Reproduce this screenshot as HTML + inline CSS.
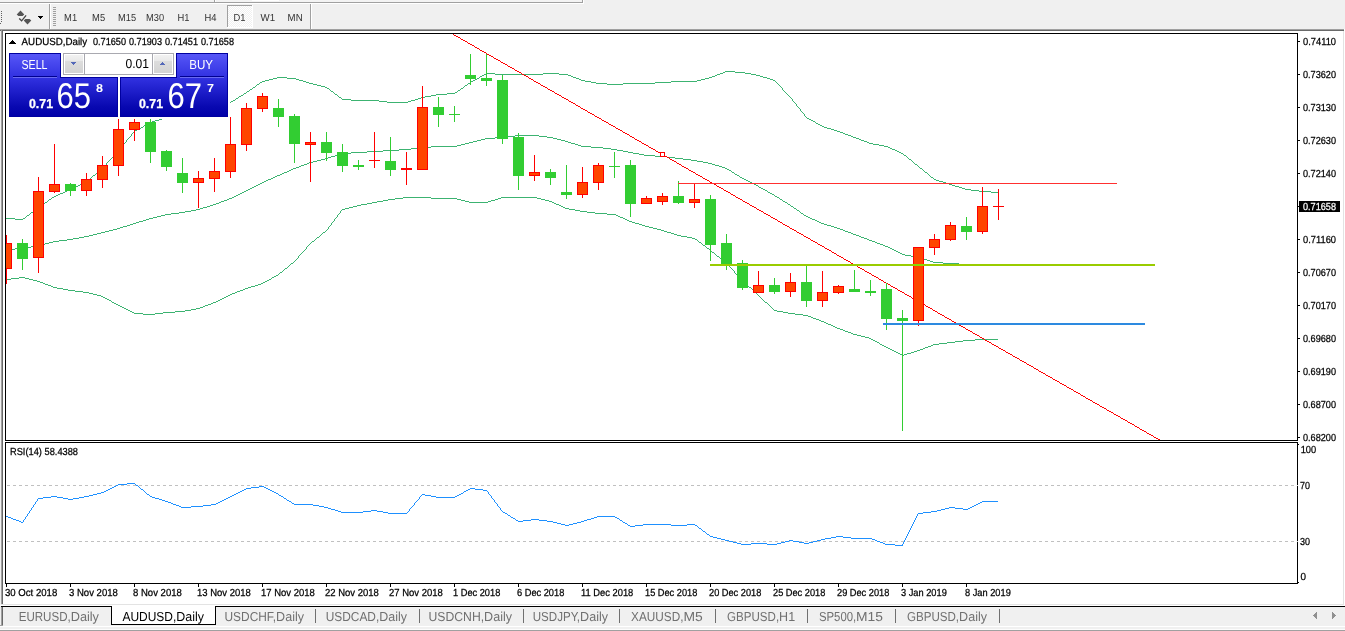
<!DOCTYPE html>
<html><head><meta charset="utf-8"><title>AUDUSD,Daily</title>
<style>
html,body{margin:0;padding:0;background:#f0f0f0;}
body{width:1345px;height:631px;overflow:hidden;position:relative;}
#frame{position:absolute;left:0;top:29px;width:1345px;height:577px;background:#fff;}
svg{position:absolute;left:0;top:0;}
</style></head><body>
<div id="frame"></div>
<svg width="1345" height="631" viewBox="0 0 1345 631">
<g shape-rendering="crispEdges">
<rect x="0" y="0" width="1345" height="29" fill="#f0f0f0"/>
<rect x="0" y="29" width="1345" height="1" fill="#a0a0a0"/>
<rect x="0" y="30" width="1345" height="1" fill="#696969"/>
<rect x="0" y="31" width="3" height="575" fill="#f0f0f0"/>
<rect x="1" y="29" width="1" height="575" fill="#a0a0a0"/>
<rect x="2" y="30" width="1" height="574" fill="#696969"/>
<rect x="1343" y="31" width="1" height="574" fill="#e3e3e3"/>
<rect x="1344" y="29" width="1" height="576" fill="#fff"/>
<rect x="1" y="604" width="1343" height="1" fill="#e3e3e3"/><rect x="0" y="605" width="1345" height="1" fill="#fff"/>
</g>
<defs><clipPath id="c1"><rect x="6" y="34" width="1291" height="406"/></clipPath><clipPath id="c2"><rect x="6" y="443" width="1291" height="140"/></clipPath>
<linearGradient id="gb" x1="0" y1="0" x2="0" y2="1"><stop offset="0" stop-color="#5858f8"/><stop offset="1" stop-color="#3030e0"/></linearGradient>
<linearGradient id="gp" x1="0" y1="0" x2="0" y2="1"><stop offset="0" stop-color="#3232e2"/><stop offset="0.75" stop-color="#0808b0"/><stop offset="1" stop-color="#0000a8"/></linearGradient>
<linearGradient id="gs" x1="0" y1="0" x2="0" y2="1"><stop offset="0" stop-color="#f2f2f2"/><stop offset="0.33" stop-color="#e9e9e9"/><stop offset="0.34" stop-color="#dddddd"/><stop offset="1" stop-color="#d3d3d3"/></linearGradient>
<pattern id="dither" x="0" y="0" width="2" height="2" patternUnits="userSpaceOnUse"><rect width="2" height="2" fill="#f0f0f0"/><rect x="0" y="0" width="1" height="1" fill="#fff"/><rect x="1" y="1" width="1" height="1" fill="#fff"/></pattern>
</defs>
<g clip-path="url(#c1)" shape-rendering="crispEdges">
<path d="M725 71h10M723 72h2M735 72h10M486 73h9M543 73h16M720 73h3M745 73h6M484 74h2M495 74h48M559 74h9M717 74h3M751 74h5M482 75h2M568 75h3M715 75h2M756 75h4M480 76h2M571 76h2M712 76h3M760 76h3M277 77h10M479 77h1M573 77h3M709 77h3M763 77h4M273 78h4M287 78h9M477 78h2M576 78h3M705 78h4M767 78h3M269 79h4M296 79h3M475 79h2M579 79h2M701 79h4M770 79h3M265 80h4M299 80h4M473 80h2M581 80h4M697 80h4M773 80h2M262 81h3M303 81h3M471 81h2M585 81h6M671 81h26M775 81h1M260 82h2M306 82h3M470 82h1M591 82h5M655 82h16M776 82h1M259 83h1M309 83h4M468 83h2M596 83h11M623 83h32M777 83h1M257 84h2M313 84h4M467 84h1M607 84h16M778 84h1M256 85h1M317 85h4M465 85h2M779 85h1M255 86h1M321 86h4M464 86h1M780 86h1M253 87h2M325 87h2M463 87h1M781 87h1M252 88h1M327 88h2M461 88h2M782 88h1M250 89h2M329 89h1M460 89h1M782 89h1M249 90h1M330 90h1M458 90h2M783 90h1M247 91h2M331 91h2M457 91h1M784 91h1M246 92h1M333 92h1M455 92h2M785 92h1M244 93h2M334 93h1M447 93h8M786 93h1M243 94h1M335 94h2M436 94h11M787 94h1M241 95h2M337 95h1M431 95h5M788 95h1M239 96h2M338 96h1M425 96h6M789 96h1M238 97h1M339 97h2M421 97h4M790 97h1M236 98h2M341 98h1M418 98h3M791 98h1M235 99h1M342 99h9M415 99h3M792 99h1M233 100h2M351 100h28M411 100h4M792 100h1M231 101h2M379 101h8M408 101h3M793 101h1M228 102h3M387 102h21M794 102h1M223 103h5M795 103h1M217 104h6M796 104h1M212 105h5M796 105h1M207 106h5M797 106h1M201 107h6M798 107h1M197 108h4M799 108h1M194 109h3M800 109h1M191 110h3M800 110h1M187 111h4M801 111h1M184 112h3M802 112h1M181 113h3M803 113h1M177 114h4M804 114h1M173 115h4M804 115h1M169 116h4M805 116h1M165 117h4M806 117h1M162 118h3M807 118h2M159 119h3M809 119h2M155 120h4M811 120h2M152 121h3M813 121h2M150 122h2M815 122h1M148 123h2M816 123h2M146 124h2M818 124h2M144 125h2M820 125h2M143 126h1M822 126h2M141 127h2M824 127h3M139 128h2M827 128h4M137 129h2M831 129h3M135 130h2M834 130h3M134 131h1M837 131h3M133 132h1M840 132h3M132 133h1M843 133h2M131 134h1M845 134h3M131 135h1M848 135h3M130 136h1M851 136h2M129 137h1M853 137h3M128 138h1M856 138h3M127 139h1M859 139h2M126 140h1M861 140h3M126 141h1M864 141h3M125 142h1M867 142h2M124 143h1M869 143h4M123 144h1M873 144h6M122 145h1M879 145h5M121 146h1M884 146h4M121 147h1M888 147h2M120 148h1M890 148h2M119 149h1M892 149h3M118 150h1M895 150h2M117 151h1M897 151h2M116 152h1M899 152h2M115 153h1M901 153h2M114 154h1M903 154h1M114 155h1M904 155h2M113 156h1M906 156h1M112 157h1M907 157h1M111 158h1M908 158h1M110 159h1M909 159h2M109 160h1M911 160h1M108 161h1M912 161h1M107 162h1M913 162h1M106 163h1M914 163h1M106 164h1M915 164h2M105 165h1M917 165h1M104 166h1M918 166h1M103 167h1M919 167h1M102 168h1M920 168h2M101 169h1M922 169h1M99 170h2M923 170h1M98 171h1M924 171h1M97 172h1M925 172h2M96 173h1M927 173h1M95 174h1M928 174h1M93 175h2M929 175h1M92 176h1M930 176h1M91 177h1M931 177h2M90 178h1M933 178h1M88 179h2M934 179h2M87 180h1M936 180h3M86 181h1M939 181h4M84 182h2M943 182h3M82 183h2M946 183h3M80 184h2M949 184h3M78 185h2M952 185h3M76 186h2M955 186h4M74 187h2M959 187h3M72 188h2M962 188h3M69 189h3M965 189h6M67 190h2M971 190h8M65 191h2M979 191h12M63 192h2M991 192h7M60 193h3M58 194h2M56 195h2M54 196h2M52 197h2M51 198h1M49 199h2M48 200h1M47 201h1M45 202h2M44 203h1M42 204h2M41 205h1M39 206h2M38 207h1M37 208h1M35 209h2M34 210h1M33 211h1M31 212h2M30 213h1M29 214h1M27 215h2M26 216h1M25 217h1M6 218h9M23 218h2M15 219h8" transform="translate(0,0.5)" fill="none" stroke="#3cb371" stroke-width="1"/>
<path d="M515 135h24M507 136h8M539 136h8M495 137h12M547 137h6M485 138h10M553 138h4M481 139h4M557 139h4M477 140h4M561 140h4M473 141h4M565 141h3M469 142h4M568 142h3M465 143h4M571 143h4M461 144h4M575 144h3M457 145h4M578 145h3M431 146h26M581 146h10M419 147h12M591 147h12M411 148h8M603 148h8M399 149h12M611 149h6M383 150h16M617 150h6M367 151h16M623 151h5M351 152h16M628 152h5M341 153h10M633 153h6M338 154h3M639 154h5M335 155h3M644 155h11M331 156h4M655 156h12M328 157h3M667 157h8M325 158h3M675 158h8M321 159h4M683 159h8M317 160h4M691 160h6M313 161h4M697 161h6M309 162h4M703 162h5M307 163h2M708 163h4M304 164h3M712 164h3M301 165h3M715 165h4M299 166h2M719 166h3M296 167h3M722 167h3M293 168h3M725 168h2M291 169h2M727 169h2M289 170h2M729 170h2M287 171h2M731 171h1M284 172h3M732 172h2M282 173h2M734 173h1M280 174h2M735 174h2M277 175h3M737 175h2M275 176h2M739 176h1M273 177h2M740 177h2M271 178h2M742 178h2M268 179h3M744 179h2M266 180h2M746 180h2M264 181h2M748 181h2M262 182h2M750 182h2M260 183h2M752 183h2M258 184h2M754 184h2M256 185h2M756 185h2M254 186h2M758 186h1M252 187h2M759 187h2M250 188h2M761 188h2M248 189h2M763 189h2M246 190h2M765 190h2M244 191h2M767 191h1M242 192h2M768 192h2M240 193h2M770 193h2M238 194h2M772 194h2M236 195h2M774 195h1M234 196h2M775 196h2M232 197h2M777 197h2M229 198h3M779 198h1M227 199h2M780 199h2M224 200h3M782 200h1M221 201h3M783 201h2M219 202h2M785 202h2M216 203h3M787 203h1M213 204h3M788 204h2M210 205h3M790 205h1M207 206h3M791 206h2M203 207h4M793 207h1M200 208h3M794 208h2M196 209h4M796 209h1M191 210h5M797 210h2M185 211h6M799 211h1M179 212h6M800 212h1M171 213h8M801 213h2M165 214h6M803 214h1M161 215h4M804 215h2M157 216h4M806 216h2M153 217h4M808 217h2M149 218h4M810 218h2M146 219h3M812 219h3M143 220h3M815 220h2M139 221h4M817 221h2M136 222h3M819 222h2M133 223h3M821 223h3M130 224h3M824 224h3M127 225h3M827 225h4M123 226h4M831 226h3M120 227h3M834 227h3M117 228h3M837 228h3M113 229h4M840 229h3M109 230h4M843 230h2M105 231h4M845 231h3M101 232h4M848 232h3M97 233h4M851 233h2M93 234h4M853 234h3M89 235h4M856 235h3M84 236h5M859 236h2M79 237h5M861 237h3M73 238h6M864 238h3M67 239h6M867 239h2M59 240h8M869 240h3M53 241h6M872 241h3M49 242h4M875 242h2M45 243h4M877 243h3M41 244h4M880 244h3M36 245h5M883 245h2M31 246h5M885 246h3M25 247h6M888 247h2M15 248h10M890 248h2M6 249h9M892 249h2M894 250h2M896 251h2M898 252h2M900 253h2M902 254h3M905 255h6M911 256h5M916 257h4M920 258h3M923 259h4M927 260h3M930 261h3M933 262h10M943 263h16M959 264h39" transform="translate(0,0.5)" fill="none" stroke="#3cb371" stroke-width="1"/>
<path d="M403 197h28M501 197h36M395 198h8M431 198h26M498 198h3M537 198h4M388 199h7M457 199h4M495 199h3M541 199h4M383 200h5M461 200h4M491 200h4M545 200h4M377 201h6M465 201h4M488 201h3M549 201h3M372 202h5M469 202h19M552 202h2M367 203h5M554 203h2M361 204h6M556 204h3M357 205h4M559 205h2M353 206h4M561 206h2M349 207h4M563 207h2M345 208h4M565 208h4M342 209h3M569 209h6M341 210h1M575 210h5M340 211h1M580 211h7M340 212h1M587 212h8M339 213h1M595 213h12M338 214h1M607 214h9M337 215h1M616 215h2M337 216h1M618 216h2M336 217h1M620 217h3M335 218h1M623 218h2M334 219h1M625 219h2M334 220h1M627 220h2M333 221h1M629 221h3M332 222h1M632 222h3M331 223h1M635 223h4M331 224h1M639 224h3M330 225h1M642 225h3M329 226h1M645 226h4M328 227h1M649 227h4M328 228h1M653 228h4M327 229h1M657 229h4M326 230h1M661 230h3M325 231h1M664 231h3M323 232h2M667 232h4M322 233h1M671 233h3M321 234h1M674 234h3M320 235h1M677 235h4M319 236h1M681 236h6M317 237h2M687 237h5M316 238h1M692 238h3M315 239h1M695 239h2M314 240h1M697 240h1M312 241h2M698 241h1M311 242h1M699 242h2M310 243h1M701 243h1M309 244h1M702 244h1M308 245h1M703 245h2M307 246h1M705 246h1M306 247h1M706 247h1M306 248h1M707 248h2M305 249h1M709 249h1M304 250h1M710 250h1M303 251h1M711 251h1M302 252h1M712 252h2M301 253h1M714 253h1M300 254h1M715 254h1M299 255h1M716 255h1M298 256h1M717 256h2M298 257h1M719 257h1M297 258h1M720 258h1M296 259h1M721 259h1M295 260h1M722 260h1M294 261h1M723 261h2M293 262h1M725 262h1M291 263h2M726 263h1M290 264h1M727 264h1M289 265h1M728 265h1M288 266h1M729 266h1M287 267h1M730 267h1M285 268h2M731 268h1M284 269h1M732 269h1M283 270h1M733 270h1M282 271h1M734 271h1M280 272h2M734 272h1M279 273h1M735 273h1M278 274h1M736 274h1M276 275h2M737 275h1M274 276h2M738 276h1M19 277h6M272 277h2M739 277h1M11 278h8M25 278h4M271 278h1M740 278h1M6 279h5M29 279h4M269 279h2M741 279h1M33 280h4M267 280h2M742 280h1M37 281h3M265 281h2M743 281h1M40 282h3M263 282h2M744 282h1M43 283h2M261 283h2M745 283h1M45 284h3M258 284h3M746 284h1M48 285h3M255 285h3M747 285h1M51 286h2M251 286h4M748 286h1M53 287h4M248 287h3M749 287h2M57 288h6M245 288h3M751 288h1M63 289h5M243 289h2M752 289h1M68 290h7M240 290h3M753 290h1M75 291h8M237 291h3M754 291h1M83 292h6M235 292h2M755 292h1M89 293h4M232 293h3M756 293h1M93 294h4M230 294h2M757 294h1M97 295h4M228 295h2M758 295h1M101 296h2M226 296h2M759 296h1M103 297h2M224 297h2M760 297h1M105 298h2M222 298h2M761 298h1M107 299h2M220 299h2M762 299h1M109 300h2M218 300h2M763 300h1M111 301h1M216 301h2M764 301h1M112 302h2M213 302h3M765 302h2M114 303h2M211 303h2M767 303h1M116 304h2M208 304h3M768 304h1M118 305h2M205 305h3M769 305h1M120 306h2M203 306h2M770 306h1M122 307h2M200 307h3M771 307h1M124 308h2M196 308h4M772 308h1M126 309h2M191 309h5M773 309h1M128 310h2M185 310h6M774 310h3M130 311h2M175 311h10M777 311h6M132 312h2M163 312h12M783 312h5M134 313h9M155 313h8M788 313h7M143 314h12M795 314h8M803 315h5M808 316h3M811 317h2M813 318h3M816 319h3M819 320h2M821 321h3M824 322h2M826 323h2M828 324h3M831 325h2M833 326h2M835 327h2M837 328h3M840 329h3M843 330h2M845 331h3M848 332h3M851 333h2M853 334h4M857 335h4M861 336h4M865 337h4M869 338h2M871 339h2M975 339h23M873 340h2M963 340h12M875 341h2M955 341h8M877 342h2M947 342h8M879 343h1M939 343h8M880 344h2M933 344h6M882 345h2M931 345h2M884 346h2M928 346h3M886 347h2M925 347h3M888 348h2M923 348h2M890 349h2M920 349h3M892 350h2M917 350h3M894 351h2M914 351h3M896 352h2M911 352h3M898 353h2M907 353h4M900 354h2M904 354h3M902 355h2" transform="translate(0,0.5)" fill="none" stroke="#3cb371" stroke-width="1"/>
<path d="M453 34h1M454 35h2M456 36h2M458 37h2M460 38h1M461 39h2M463 40h2M465 41h2M467 42h1M468 43h2M470 44h2M472 45h2M474 46h1M475 47h2M477 48h2M479 49h1M480 50h2M482 51h2M484 52h2M486 53h1M487 54h2M489 55h2M491 56h2M493 57h1M494 58h2M496 59h2M498 60h2M500 61h1M501 62h2M503 63h2M505 64h2M507 65h1M508 66h2M510 67h2M512 68h2M514 69h1M515 70h2M517 71h2M519 72h2M521 73h1M522 74h2M524 75h2M526 76h2M528 77h1M529 78h2M531 79h2M533 80h1M534 81h2M536 82h2M538 83h2M540 84h1M541 85h2M543 86h2M545 87h2M547 88h1M548 89h2M550 90h2M552 91h2M554 92h1M555 93h2M557 94h2M559 95h2M561 96h1M562 97h2M564 98h2M566 99h2M568 100h1M569 101h2M571 102h2M573 103h2M575 104h1M576 105h2M578 106h2M580 107h1M581 108h2M583 109h2M585 110h2M587 111h1M588 112h2M590 113h2M592 114h2M594 115h1M595 116h2M597 117h2M599 118h2M601 119h1M602 120h2M604 121h2M606 122h2M608 123h1M609 124h2M611 125h2M613 126h2M615 127h1M616 128h2M618 129h2M620 130h2M622 131h1M623 132h2M625 133h2M627 134h2M629 135h1M630 136h2M632 137h2M634 138h1M635 139h2M637 140h2M639 141h2M641 142h1M642 143h2M644 144h2M646 145h2M648 146h1M649 147h2M651 148h2M653 149h2M655 150h1M656 151h2M658 152h2M660 153h2M662 154h1M663 155h2M665 156h2M667 157h2M669 158h1M670 159h2M672 160h2M674 161h2M676 162h1M677 163h2M679 164h2M681 165h1M682 166h2M684 167h2M686 168h2M688 169h1M689 170h2M691 171h2M693 172h2M695 173h1M696 174h2M698 175h2M700 176h2M702 177h1M703 178h2M705 179h2M707 180h2M709 181h1M710 182h2M712 183h2M714 184h2M716 185h1M717 186h2M719 187h2M721 188h2M723 189h1M724 190h2M726 191h2M728 192h2M730 193h1M731 194h2M733 195h2M735 196h1M736 197h2M738 198h2M740 199h2M742 200h1M743 201h2M745 202h2M747 203h2M749 204h1M750 205h2M752 206h2M754 207h2M756 208h1M757 209h2M759 210h2M761 211h2M763 212h1M764 213h2M766 214h2M768 215h2M770 216h1M771 217h2M773 218h2M775 219h2M777 220h1M778 221h2M780 222h2M782 223h1M783 224h2M785 225h2M787 226h2M789 227h1M790 228h2M792 229h2M794 230h2M796 231h1M797 232h2M799 233h2M801 234h2M803 235h1M804 236h2M806 237h2M808 238h2M810 239h1M811 240h2M813 241h2M815 242h2M817 243h1M818 244h2M820 245h2M822 246h2M824 247h1M825 248h2M827 249h2M829 250h2M831 251h1M832 252h2M834 253h2M836 254h1M837 255h2M839 256h2M841 257h2M843 258h1M844 259h2M846 260h2M848 261h2M850 262h1M851 263h2M853 264h2M855 265h2M857 266h1M858 267h2M860 268h2M862 269h2M864 270h1M865 271h2M867 272h2M869 273h2M871 274h1M872 275h2M874 276h2M876 277h2M878 278h1M879 279h2M881 280h2M883 281h1M884 282h2M886 283h2M888 284h2M890 285h1M891 286h2M893 287h2M895 288h2M897 289h1M898 290h2M900 291h2M902 292h2M904 293h1M905 294h2M907 295h2M909 296h2M911 297h1M912 298h2M914 299h2M916 300h2M918 301h1M919 302h2M921 303h2M923 304h2M925 305h1M926 306h2M928 307h2M930 308h2M932 309h1M933 310h2M935 311h2M937 312h1M938 313h2M940 314h2M942 315h2M944 316h1M945 317h2M947 318h2M949 319h2M951 320h1M952 321h2M954 322h2M956 323h2M958 324h1M959 325h2M961 326h2M963 327h2M965 328h1M966 329h2M968 330h2M970 331h2M972 332h1M973 333h2M975 334h2M977 335h2M979 336h1M980 337h2M982 338h2M984 339h1M985 340h2M987 341h2M989 342h2M991 343h1M992 344h2M994 345h2M996 346h2M998 347h1M999 348h2M1001 349h2M1003 350h2M1005 351h1M1006 352h2M1008 353h2M1010 354h2M1012 355h1M1013 356h2M1015 357h2M1017 358h2M1019 359h1M1020 360h2M1022 361h2M1024 362h2M1026 363h1M1027 364h2M1029 365h2M1031 366h2M1033 367h1M1034 368h2M1036 369h2M1038 370h1M1039 371h2M1041 372h2M1043 373h2M1045 374h1M1046 375h2M1048 376h2M1050 377h2M1052 378h1M1053 379h2M1055 380h2M1057 381h2M1059 382h1M1060 383h2M1062 384h2M1064 385h2M1066 386h1M1067 387h2M1069 388h2M1071 389h2M1073 390h1M1074 391h2M1076 392h2M1078 393h2M1080 394h1M1081 395h2M1083 396h2M1085 397h1M1086 398h2M1088 399h2M1090 400h2M1092 401h1M1093 402h2M1095 403h2M1097 404h2M1099 405h1M1100 406h2M1102 407h2M1104 408h2M1106 409h1M1107 410h2M1109 411h2M1111 412h2M1113 413h1M1114 414h2M1116 415h2M1118 416h2M1120 417h1M1121 418h2M1123 419h2M1125 420h2M1127 421h1M1128 422h2M1130 423h2M1132 424h2M1134 425h1M1135 426h2M1137 427h2M1139 428h1M1140 429h2M1142 430h2M1144 431h2M1146 432h1M1147 433h2M1149 434h2M1151 435h2M1153 436h1M1154 437h2M1156 438h2M1158 439h2M1160 440h1" transform="translate(0,0.5)" fill="none" stroke="#ff0000" stroke-width="1"/>
<rect x="6" y="235" width="1" height="49" fill="#ff0000"/>
<rect x="1" y="243" width="11" height="26" fill="#ff0000"/>
<rect x="2" y="244" width="9" height="24" fill="#ff4500"/>
<rect x="22" y="239" width="1" height="31" fill="#32cd32"/>
<rect x="17" y="243" width="11" height="16" fill="#32cd32"/>
<rect x="38" y="177" width="1" height="96" fill="#ff0000"/>
<rect x="33" y="191" width="11" height="67" fill="#ff0000"/>
<rect x="34" y="192" width="9" height="65" fill="#ff4500"/>
<rect x="54" y="144" width="1" height="49" fill="#ff0000"/>
<rect x="49" y="184" width="11" height="8" fill="#ff0000"/>
<rect x="50" y="185" width="9" height="6" fill="#ff4500"/>
<rect x="70" y="183" width="1" height="13" fill="#32cd32"/>
<rect x="65" y="184" width="11" height="7" fill="#32cd32"/>
<rect x="86" y="173" width="1" height="23" fill="#ff0000"/>
<rect x="81" y="179" width="11" height="12" fill="#ff0000"/>
<rect x="82" y="180" width="9" height="10" fill="#ff4500"/>
<rect x="102" y="156" width="1" height="32" fill="#ff0000"/>
<rect x="97" y="165" width="11" height="15" fill="#ff0000"/>
<rect x="98" y="166" width="9" height="13" fill="#ff4500"/>
<rect x="118" y="119" width="1" height="57" fill="#ff0000"/>
<rect x="113" y="129" width="11" height="37" fill="#ff0000"/>
<rect x="114" y="130" width="9" height="35" fill="#ff4500"/>
<rect x="134" y="119" width="1" height="22" fill="#ff0000"/>
<rect x="129" y="122" width="11" height="8" fill="#ff0000"/>
<rect x="130" y="123" width="9" height="6" fill="#ff4500"/>
<rect x="150" y="119" width="1" height="44" fill="#32cd32"/>
<rect x="145" y="122" width="11" height="30" fill="#32cd32"/>
<rect x="166" y="150" width="1" height="21" fill="#32cd32"/>
<rect x="161" y="151" width="11" height="16" fill="#32cd32"/>
<rect x="182" y="158" width="1" height="35" fill="#32cd32"/>
<rect x="177" y="173" width="11" height="10" fill="#32cd32"/>
<rect x="198" y="171" width="1" height="37" fill="#ff0000"/>
<rect x="193" y="178" width="11" height="5" fill="#ff0000"/>
<rect x="194" y="179" width="9" height="3" fill="#ff4500"/>
<rect x="214" y="158" width="1" height="34" fill="#ff0000"/>
<rect x="209" y="171" width="11" height="8" fill="#ff0000"/>
<rect x="210" y="172" width="9" height="6" fill="#ff4500"/>
<rect x="230" y="117" width="1" height="61" fill="#ff0000"/>
<rect x="225" y="144" width="11" height="28" fill="#ff0000"/>
<rect x="226" y="145" width="9" height="26" fill="#ff4500"/>
<rect x="246" y="103" width="1" height="48" fill="#ff0000"/>
<rect x="241" y="108" width="11" height="37" fill="#ff0000"/>
<rect x="242" y="109" width="9" height="35" fill="#ff4500"/>
<rect x="262" y="93" width="1" height="19" fill="#ff0000"/>
<rect x="257" y="96" width="11" height="13" fill="#ff0000"/>
<rect x="258" y="97" width="9" height="11" fill="#ff4500"/>
<rect x="278" y="99" width="1" height="28" fill="#32cd32"/>
<rect x="273" y="108" width="11" height="9" fill="#32cd32"/>
<rect x="294" y="114" width="1" height="49" fill="#32cd32"/>
<rect x="289" y="116" width="11" height="28" fill="#32cd32"/>
<rect x="310" y="132" width="1" height="50" fill="#ff0000"/>
<rect x="305" y="142" width="11" height="3" fill="#ff0000"/>
<rect x="306" y="143" width="9" height="1" fill="#ff4500"/>
<rect x="326" y="132" width="1" height="29" fill="#32cd32"/>
<rect x="321" y="142" width="11" height="11" fill="#32cd32"/>
<rect x="342" y="144" width="1" height="28" fill="#32cd32"/>
<rect x="337" y="152" width="11" height="14" fill="#32cd32"/>
<rect x="358" y="160" width="1" height="10" fill="#32cd32"/>
<rect x="353" y="165" width="11" height="2" fill="#32cd32"/>
<rect x="374" y="132" width="1" height="36" fill="#ff0000"/>
<rect x="369" y="160" width="11" height="1" fill="#ff0000"/>
<rect x="390" y="137" width="1" height="39" fill="#32cd32"/>
<rect x="385" y="161" width="11" height="9" fill="#32cd32"/>
<rect x="406" y="152" width="1" height="33" fill="#ff0000"/>
<rect x="401" y="168" width="11" height="2" fill="#ff0000"/>
<rect x="422" y="86" width="1" height="84" fill="#ff0000"/>
<rect x="417" y="107" width="11" height="63" fill="#ff0000"/>
<rect x="418" y="108" width="9" height="61" fill="#ff4500"/>
<rect x="438" y="97" width="1" height="30" fill="#32cd32"/>
<rect x="433" y="107" width="11" height="8" fill="#32cd32"/>
<rect x="454" y="106" width="1" height="16" fill="#32cd32"/>
<rect x="449" y="114" width="11" height="1" fill="#32cd32"/>
<rect x="470" y="54" width="1" height="31" fill="#32cd32"/>
<rect x="465" y="75" width="11" height="4" fill="#32cd32"/>
<rect x="486" y="54" width="1" height="32" fill="#32cd32"/>
<rect x="481" y="78" width="11" height="3" fill="#32cd32"/>
<rect x="502" y="75" width="1" height="69" fill="#32cd32"/>
<rect x="497" y="80" width="11" height="59" fill="#32cd32"/>
<rect x="518" y="133" width="1" height="57" fill="#32cd32"/>
<rect x="513" y="137" width="11" height="39" fill="#32cd32"/>
<rect x="534" y="155" width="1" height="26" fill="#ff0000"/>
<rect x="529" y="172" width="11" height="4" fill="#ff0000"/>
<rect x="530" y="173" width="9" height="2" fill="#ff4500"/>
<rect x="550" y="169" width="1" height="16" fill="#32cd32"/>
<rect x="545" y="172" width="11" height="6" fill="#32cd32"/>
<rect x="566" y="165" width="1" height="34" fill="#32cd32"/>
<rect x="561" y="192" width="11" height="3" fill="#32cd32"/>
<rect x="582" y="167" width="1" height="31" fill="#ff0000"/>
<rect x="577" y="182" width="11" height="13" fill="#ff0000"/>
<rect x="578" y="183" width="9" height="11" fill="#ff4500"/>
<rect x="598" y="163" width="1" height="27" fill="#ff0000"/>
<rect x="593" y="165" width="11" height="18" fill="#ff0000"/>
<rect x="594" y="166" width="9" height="16" fill="#ff4500"/>
<rect x="614" y="152" width="1" height="26" fill="#32cd32"/>
<rect x="609" y="166" width="11" height="1" fill="#32cd32"/>
<rect x="630" y="160" width="1" height="57" fill="#32cd32"/>
<rect x="625" y="165" width="11" height="39" fill="#32cd32"/>
<rect x="646" y="196" width="1" height="8" fill="#ff0000"/>
<rect x="641" y="198" width="11" height="6" fill="#ff0000"/>
<rect x="642" y="199" width="9" height="4" fill="#ff4500"/>
<rect x="662" y="193" width="1" height="12" fill="#ff0000"/>
<rect x="657" y="196" width="11" height="6" fill="#ff0000"/>
<rect x="658" y="197" width="9" height="4" fill="#ff4500"/>
<rect x="678" y="181" width="1" height="23" fill="#32cd32"/>
<rect x="673" y="196" width="11" height="7" fill="#32cd32"/>
<rect x="694" y="183" width="1" height="25" fill="#ff0000"/>
<rect x="689" y="199" width="11" height="4" fill="#ff0000"/>
<rect x="690" y="200" width="9" height="2" fill="#ff4500"/>
<rect x="710" y="195" width="1" height="66" fill="#32cd32"/>
<rect x="705" y="199" width="11" height="46" fill="#32cd32"/>
<rect x="726" y="234" width="1" height="36" fill="#32cd32"/>
<rect x="721" y="243" width="11" height="22" fill="#32cd32"/>
<rect x="742" y="260" width="1" height="30" fill="#32cd32"/>
<rect x="737" y="263" width="11" height="25" fill="#32cd32"/>
<rect x="758" y="271" width="1" height="22" fill="#ff0000"/>
<rect x="753" y="285" width="11" height="8" fill="#ff0000"/>
<rect x="754" y="286" width="9" height="6" fill="#ff4500"/>
<rect x="774" y="278" width="1" height="16" fill="#32cd32"/>
<rect x="769" y="285" width="11" height="7" fill="#32cd32"/>
<rect x="790" y="273" width="1" height="24" fill="#ff0000"/>
<rect x="785" y="282" width="11" height="10" fill="#ff0000"/>
<rect x="786" y="283" width="9" height="8" fill="#ff4500"/>
<rect x="806" y="265" width="1" height="42" fill="#32cd32"/>
<rect x="801" y="282" width="11" height="19" fill="#32cd32"/>
<rect x="822" y="271" width="1" height="36" fill="#ff0000"/>
<rect x="817" y="292" width="11" height="9" fill="#ff0000"/>
<rect x="818" y="293" width="9" height="7" fill="#ff4500"/>
<rect x="838" y="285" width="1" height="9" fill="#ff0000"/>
<rect x="833" y="286" width="11" height="7" fill="#ff0000"/>
<rect x="834" y="287" width="9" height="5" fill="#ff4500"/>
<rect x="854" y="270" width="1" height="22" fill="#32cd32"/>
<rect x="849" y="289" width="11" height="3" fill="#32cd32"/>
<rect x="870" y="280" width="1" height="16" fill="#32cd32"/>
<rect x="865" y="291" width="11" height="2" fill="#32cd32"/>
<rect x="886" y="283" width="1" height="47" fill="#32cd32"/>
<rect x="881" y="289" width="11" height="30" fill="#32cd32"/>
<rect x="902" y="310" width="1" height="121" fill="#32cd32"/>
<rect x="897" y="318" width="11" height="3" fill="#32cd32"/>
<rect x="918" y="247" width="1" height="79" fill="#ff0000"/>
<rect x="913" y="247" width="11" height="74" fill="#ff0000"/>
<rect x="914" y="248" width="9" height="72" fill="#ff4500"/>
<rect x="934" y="234" width="1" height="21" fill="#ff0000"/>
<rect x="929" y="239" width="11" height="9" fill="#ff0000"/>
<rect x="930" y="240" width="9" height="7" fill="#ff4500"/>
<rect x="950" y="222" width="1" height="19" fill="#ff0000"/>
<rect x="945" y="225" width="11" height="15" fill="#ff0000"/>
<rect x="946" y="226" width="9" height="13" fill="#ff4500"/>
<rect x="966" y="217" width="1" height="23" fill="#32cd32"/>
<rect x="961" y="226" width="11" height="6" fill="#32cd32"/>
<rect x="982" y="187" width="1" height="47" fill="#ff0000"/>
<rect x="977" y="206" width="11" height="26" fill="#ff0000"/>
<rect x="978" y="207" width="9" height="24" fill="#ff4500"/>
<rect x="998" y="189" width="1" height="31" fill="#ff0000"/>
<rect x="993" y="206" width="11" height="1" fill="#ff0000"/>
<rect x="660.5" y="152.5" width="4" height="4" fill="#fff" stroke="#ff0000" stroke-width="1"/>
<rect x="678" y="183" width="439" height="1" fill="#ff3030"/>
<rect x="710" y="264" width="445" height="2" fill="#99cc00"/>
<rect x="913" y="264" width="11" height="2" fill="#88d800"/>
<rect x="883" y="323" width="262" height="2" fill="#2d8ae0"/>
</g>
<rect x="6" y="34" width="224" height="85" fill="#fff" shape-rendering="crispEdges"/>
<g clip-path="url(#c2)" shape-rendering="crispEdges">
<line x1="7" y1="485.5" x2="1297" y2="485.5" stroke="#c0c0c0" stroke-width="1" stroke-dasharray="3 3"/>
<line x1="7" y1="541.5" x2="1297" y2="541.5" stroke="#c0c0c0" stroke-width="1" stroke-dasharray="3 3"/>
<path d="M127 483h8M118 484h9M135 484h1M116 485h2M136 485h2M114 486h2M138 486h1M259 486h5M112 487h2M139 487h1M251 487h8M264 487h2M110 488h2M140 488h1M246 488h5M266 488h2M470 488h5M108 489h2M141 489h2M244 489h2M268 489h2M468 489h2M475 489h8M106 490h2M143 490h1M242 490h2M270 490h2M466 490h2M483 490h4M104 491h2M144 491h1M240 491h2M272 491h2M464 491h2M487 491h1M101 492h3M145 492h1M238 492h2M274 492h2M463 492h1M488 492h1M97 493h4M146 493h1M236 493h2M276 493h2M461 493h2M488 493h1M93 494h4M147 494h2M234 494h2M278 494h1M422 494h3M459 494h2M489 494h1M89 495h4M149 495h1M232 495h2M279 495h2M421 495h1M425 495h6M457 495h2M490 495h1M51 496h6M84 496h5M150 496h2M230 496h2M281 496h2M420 496h1M431 496h5M455 496h2M491 496h1M43 497h8M57 497h6M79 497h5M152 497h3M228 497h2M283 497h1M419 497h1M436 497h19M491 497h1M38 498h5M63 498h5M73 498h6M155 498h4M226 498h2M284 498h2M419 498h1M492 498h1M37 499h1M68 499h5M159 499h3M224 499h2M286 499h1M418 499h1M493 499h1M37 500h1M162 500h3M222 500h2M287 500h2M417 500h1M494 500h1M36 501h1M165 501h3M220 501h2M289 501h2M416 501h1M494 501h1M982 501h16M35 502h1M168 502h3M218 502h2M291 502h1M415 502h1M495 502h1M980 502h2M35 503h1M171 503h2M216 503h2M292 503h2M414 503h1M496 503h1M978 503h2M34 504h1M173 504h3M211 504h5M294 504h19M414 504h1M497 504h1M976 504h2M33 505h1M176 505h3M203 505h8M313 505h6M413 505h1M497 505h1M974 505h2M33 506h1M179 506h2M191 506h12M319 506h5M412 506h1M498 506h1M972 506h2M32 507h1M181 507h10M324 507h4M411 507h1M499 507h1M949 507h6M970 507h2M31 508h1M328 508h3M410 508h1M500 508h1M945 508h4M955 508h8M968 508h2M31 509h1M331 509h4M409 509h1M500 509h1M941 509h4M963 509h5M30 510h1M335 510h3M371 510h6M409 510h1M501 510h1M937 510h4M29 511h1M338 511h3M363 511h8M377 511h6M408 511h1M502 511h1M931 511h6M29 512h1M341 512h22M383 512h5M407 512h1M503 512h2M923 512h8M28 513h1M388 513h19M505 513h2M918 513h5M27 514h1M507 514h1M917 514h1M27 515h1M508 515h2M917 515h1M6 516h2M26 516h1M510 516h1M597 516h18M916 516h1M8 517h3M25 517h1M511 517h2M594 517h3M615 517h2M916 517h1M11 518h2M25 518h1M513 518h2M591 518h3M617 518h2M915 518h1M13 519h3M24 519h1M515 519h1M531 519h8M587 519h4M619 519h1M915 519h1M16 520h3M23 520h1M516 520h2M523 520h8M539 520h8M584 520h3M620 520h2M914 520h1M19 521h2M23 521h1M518 521h5M547 521h6M581 521h3M622 521h1M914 521h1M21 522h2M553 522h4M577 522h4M623 522h2M913 522h1M557 523h4M573 523h4M625 523h2M913 523h1M561 524h4M569 524h4M627 524h1M643 524h28M687 524h8M912 524h1M565 525h4M628 525h2M635 525h8M671 525h16M695 525h2M912 525h1M630 526h5M697 526h1M911 526h1M698 527h1M911 527h1M699 528h2M910 528h1M701 529h1M910 529h1M702 530h1M909 530h1M703 531h2M909 531h1M705 532h1M908 532h1M706 533h1M908 533h1M707 534h2M907 534h1M709 535h1M907 535h1M710 536h3M836 536h7M906 536h1M713 537h4M831 537h5M843 537h8M906 537h1M717 538h4M825 538h6M851 538h21M905 538h1M721 539h4M821 539h4M872 539h3M905 539h1M725 540h4M789 540h4M817 540h4M875 540h2M904 540h1M729 541h4M785 541h4M793 541h6M813 541h4M877 541h3M904 541h1M733 542h4M781 542h4M799 542h5M809 542h4M880 542h3M903 542h1M737 543h4M751 543h16M777 543h4M804 543h5M883 543h2M903 543h1M741 544h10M767 544h10M885 544h10M902 544h1M895 545h8" transform="translate(0,0.5)" fill="none" stroke="#1e90ff" stroke-width="1"/>
</g>
<g shape-rendering="crispEdges" fill="#000">
<rect x="5" y="33" width="1293" height="1"/>
<rect x="5" y="33" width="1" height="408"/>
<rect x="1297" y="33" width="1" height="551"/>
<rect x="5" y="440" width="1293" height="1"/>
<rect x="5" y="442" width="1293" height="1"/>
<rect x="5" y="442" width="1" height="142"/>
<rect x="5" y="583" width="1293" height="1"/>
<rect x="1298" y="41" width="2" height="1"/>
<rect x="1298" y="74" width="2" height="1"/>
<rect x="1298" y="107" width="2" height="1"/>
<rect x="1298" y="140" width="2" height="1"/>
<rect x="1298" y="173" width="2" height="1"/>
<rect x="1298" y="206" width="2" height="1"/>
<rect x="1298" y="239" width="2" height="1"/>
<rect x="1298" y="272" width="2" height="1"/>
<rect x="1298" y="305" width="2" height="1"/>
<rect x="1298" y="338" width="2" height="1"/>
<rect x="1298" y="371" width="2" height="1"/>
<rect x="1298" y="404" width="2" height="1"/>
<rect x="1298" y="437" width="2" height="1"/>
<rect x="1298" y="444" width="1" height="1"/>
<rect x="1298" y="582" width="1" height="1"/>
<rect x="1297" y="441" width="1" height="1" fill="#fff"/>
<rect x="1297" y="485" width="1" height="1" fill="#d0d0d0"/>
<rect x="1297" y="541" width="1" height="1" fill="#d0d0d0"/>
<rect x="6" y="584" width="1" height="3"/>
<rect x="70" y="584" width="1" height="3"/>
<rect x="134" y="584" width="1" height="3"/>
<rect x="198" y="584" width="1" height="3"/>
<rect x="262" y="584" width="1" height="3"/>
<rect x="326" y="584" width="1" height="3"/>
<rect x="390" y="584" width="1" height="3"/>
<rect x="454" y="584" width="1" height="3"/>
<rect x="518" y="584" width="1" height="3"/>
<rect x="582" y="584" width="1" height="3"/>
<rect x="646" y="584" width="1" height="3"/>
<rect x="710" y="584" width="1" height="3"/>
<rect x="774" y="584" width="1" height="3"/>
<rect x="838" y="584" width="1" height="3"/>
<rect x="902" y="584" width="1" height="3"/>
<rect x="966" y="584" width="1" height="3"/>
</g>
<g font-family="Liberation Sans, Arial, sans-serif" text-rendering="geometricPrecision">
<text x="1303" y="45" font-size="10.2" fill="#000" font-weight="normal" text-anchor="start" textLength="33" lengthAdjust="spacingAndGlyphs" stroke="#000" stroke-width="0.25" >0.74110</text>
<text x="1303" y="78" font-size="10.2" fill="#000" font-weight="normal" text-anchor="start" textLength="33" lengthAdjust="spacingAndGlyphs" stroke="#000" stroke-width="0.25" >0.73620</text>
<text x="1303" y="111" font-size="10.2" fill="#000" font-weight="normal" text-anchor="start" textLength="33" lengthAdjust="spacingAndGlyphs" stroke="#000" stroke-width="0.25" >0.73130</text>
<text x="1303" y="144" font-size="10.2" fill="#000" font-weight="normal" text-anchor="start" textLength="33" lengthAdjust="spacingAndGlyphs" stroke="#000" stroke-width="0.25" >0.72630</text>
<text x="1303" y="177" font-size="10.2" fill="#000" font-weight="normal" text-anchor="start" textLength="33" lengthAdjust="spacingAndGlyphs" stroke="#000" stroke-width="0.25" >0.72140</text>
<text x="1303" y="243" font-size="10.2" fill="#000" font-weight="normal" text-anchor="start" textLength="33" lengthAdjust="spacingAndGlyphs" stroke="#000" stroke-width="0.25" >0.71160</text>
<text x="1303" y="276" font-size="10.2" fill="#000" font-weight="normal" text-anchor="start" textLength="33" lengthAdjust="spacingAndGlyphs" stroke="#000" stroke-width="0.25" >0.70670</text>
<text x="1303" y="309" font-size="10.2" fill="#000" font-weight="normal" text-anchor="start" textLength="33" lengthAdjust="spacingAndGlyphs" stroke="#000" stroke-width="0.25" >0.70170</text>
<text x="1303" y="342" font-size="10.2" fill="#000" font-weight="normal" text-anchor="start" textLength="33" lengthAdjust="spacingAndGlyphs" stroke="#000" stroke-width="0.25" >0.69680</text>
<text x="1303" y="375" font-size="10.2" fill="#000" font-weight="normal" text-anchor="start" textLength="33" lengthAdjust="spacingAndGlyphs" stroke="#000" stroke-width="0.25" >0.69190</text>
<text x="1303" y="408" font-size="10.2" fill="#000" font-weight="normal" text-anchor="start" textLength="33" lengthAdjust="spacingAndGlyphs" stroke="#000" stroke-width="0.25" >0.68700</text>
<text x="1303" y="441" font-size="10.2" fill="#000" font-weight="normal" text-anchor="start" textLength="33" lengthAdjust="spacingAndGlyphs" stroke="#000" stroke-width="0.25" >0.68200</text>
<rect x="1299" y="201" width="41" height="11" fill="#000" shape-rendering="crispEdges"/>
<text x="1303" y="210" font-size="10.2" fill="#fff" font-weight="normal" text-anchor="start" textLength="33" lengthAdjust="spacingAndGlyphs" stroke="#fff" stroke-width="0.25" >0.71658</text>
<text x="1300.7" y="453" font-size="10.2" fill="#000" font-weight="normal" text-anchor="start" textLength="15.5" lengthAdjust="spacingAndGlyphs" stroke="#000" stroke-width="0.25" >100</text>
<text x="1300" y="489" font-size="10.2" fill="#000" font-weight="normal" text-anchor="start" textLength="10" lengthAdjust="spacingAndGlyphs" stroke="#000" stroke-width="0.25" >70</text>
<text x="1300" y="545" font-size="10.2" fill="#000" font-weight="normal" text-anchor="start" textLength="10" lengthAdjust="spacingAndGlyphs" stroke="#000" stroke-width="0.25" >30</text>
<text x="1300.6" y="580" font-size="10.2" fill="#000" font-weight="normal" text-anchor="start" textLength="5.5" lengthAdjust="spacingAndGlyphs" stroke="#000" stroke-width="0.25" >0</text>
<text x="5" y="596" font-size="10.2" fill="#000" font-weight="normal" text-anchor="start" textLength="52.3" lengthAdjust="spacingAndGlyphs" stroke="#000" stroke-width="0.25" >30 Oct 2018</text>
<text x="69" y="596" font-size="10.2" fill="#000" font-weight="normal" text-anchor="start" textLength="48.8" lengthAdjust="spacingAndGlyphs" stroke="#000" stroke-width="0.25" >3 Nov 2018</text>
<text x="133" y="596" font-size="10.2" fill="#000" font-weight="normal" text-anchor="start" textLength="48.8" lengthAdjust="spacingAndGlyphs" stroke="#000" stroke-width="0.25" >8 Nov 2018</text>
<text x="197" y="596" font-size="10.2" fill="#000" font-weight="normal" text-anchor="start" textLength="53.8" lengthAdjust="spacingAndGlyphs" stroke="#000" stroke-width="0.25" >13 Nov 2018</text>
<text x="261" y="596" font-size="10.2" fill="#000" font-weight="normal" text-anchor="start" textLength="53.8" lengthAdjust="spacingAndGlyphs" stroke="#000" stroke-width="0.25" >17 Nov 2018</text>
<text x="325" y="596" font-size="10.2" fill="#000" font-weight="normal" text-anchor="start" textLength="53.8" lengthAdjust="spacingAndGlyphs" stroke="#000" stroke-width="0.25" >22 Nov 2018</text>
<text x="389" y="596" font-size="10.2" fill="#000" font-weight="normal" text-anchor="start" textLength="53.8" lengthAdjust="spacingAndGlyphs" stroke="#000" stroke-width="0.25" >27 Nov 2018</text>
<text x="453" y="596" font-size="10.2" fill="#000" font-weight="normal" text-anchor="start" textLength="47.3" lengthAdjust="spacingAndGlyphs" stroke="#000" stroke-width="0.25" >1 Dec 2018</text>
<text x="517" y="596" font-size="10.2" fill="#000" font-weight="normal" text-anchor="start" textLength="47.3" lengthAdjust="spacingAndGlyphs" stroke="#000" stroke-width="0.25" >6 Dec 2018</text>
<text x="581" y="596" font-size="10.2" fill="#000" font-weight="normal" text-anchor="start" textLength="52.3" lengthAdjust="spacingAndGlyphs" stroke="#000" stroke-width="0.25" >11 Dec 2018</text>
<text x="645" y="596" font-size="10.2" fill="#000" font-weight="normal" text-anchor="start" textLength="52.3" lengthAdjust="spacingAndGlyphs" stroke="#000" stroke-width="0.25" >15 Dec 2018</text>
<text x="709" y="596" font-size="10.2" fill="#000" font-weight="normal" text-anchor="start" textLength="52.3" lengthAdjust="spacingAndGlyphs" stroke="#000" stroke-width="0.25" >20 Dec 2018</text>
<text x="773" y="596" font-size="10.2" fill="#000" font-weight="normal" text-anchor="start" textLength="52.3" lengthAdjust="spacingAndGlyphs" stroke="#000" stroke-width="0.25" >25 Dec 2018</text>
<text x="837" y="596" font-size="10.2" fill="#000" font-weight="normal" text-anchor="start" textLength="52.3" lengthAdjust="spacingAndGlyphs" stroke="#000" stroke-width="0.25" >29 Dec 2018</text>
<text x="901" y="596" font-size="10.2" fill="#000" font-weight="normal" text-anchor="start" textLength="45.8" lengthAdjust="spacingAndGlyphs" stroke="#000" stroke-width="0.25" >3 Jan 2019</text>
<text x="965" y="596" font-size="10.2" fill="#000" font-weight="normal" text-anchor="start" textLength="45.8" lengthAdjust="spacingAndGlyphs" stroke="#000" stroke-width="0.25" >8 Jan 2019</text>
<text x="10" y="455" font-size="10.2" fill="#000" font-weight="normal" text-anchor="start" textLength="68" lengthAdjust="spacingAndGlyphs" stroke="#000" stroke-width="0.25" >RSI(14) 58.4388</text>
<path d="M9 43h7v1h-7zM10 42h5v1h-5zM11 41h3v1h-3zM12 40h1v1h-1z" fill="#000" shape-rendering="crispEdges"/>
<text x="21.6" y="45" font-size="10.2" fill="#000" font-weight="normal" text-anchor="start" textLength="65.5" lengthAdjust="spacingAndGlyphs" stroke="#000" stroke-width="0.25" >AUDUSD,Daily</text>
<text x="93" y="45" font-size="10.2" fill="#000" font-weight="normal" text-anchor="start" textLength="33" lengthAdjust="spacingAndGlyphs" stroke="#000" stroke-width="0.25" >0.71650</text>
<text x="129" y="45" font-size="10.2" fill="#000" font-weight="normal" text-anchor="start" textLength="33" lengthAdjust="spacingAndGlyphs" stroke="#000" stroke-width="0.25" >0.71903</text>
<text x="165" y="45" font-size="10.2" fill="#000" font-weight="normal" text-anchor="start" textLength="33" lengthAdjust="spacingAndGlyphs" stroke="#000" stroke-width="0.25" >0.71451</text>
<text x="201" y="45" font-size="10.2" fill="#000" font-weight="normal" text-anchor="start" textLength="33" lengthAdjust="spacingAndGlyphs" stroke="#000" stroke-width="0.25" >0.71658</text>
</g>
<g shape-rendering="crispEdges">
<rect x="9" y="53" width="219" height="64" fill="#fff"/>
<rect x="9" y="53" width="52" height="25" fill="url(#gb)" stroke="none"/>
<rect x="176" y="53" width="52" height="25" fill="url(#gb)"/>
<rect x="9" y="77" width="109" height="40" fill="url(#gp)"/>
<rect x="120" y="77" width="108" height="40" fill="url(#gp)"/>
<path d="M9.5 53.5 H60.5 V77.5 H117.5 V116.5 H9.5 Z" fill="none" stroke="#0000a0"/>
<path d="M176.5 53.5 H227.5 V116.5 H120.5 V77.5 H176.5 Z" fill="none" stroke="#0000a0"/>
<rect x="13" y="76" width="44" height="1" fill="#000090"/><rect x="13" y="77" width="44" height="1" fill="#6a6af0"/>
<rect x="180" y="76" width="44" height="1" fill="#000090"/><rect x="180" y="77" width="44" height="1" fill="#6a6af0"/>
<rect x="63.5" y="53.5" width="110" height="21" fill="#fff" stroke="#a9a9b0"/>
<rect x="65" y="55" width="18" height="18" fill="url(#gs)"/>
<rect x="84" y="54" width="1" height="20" fill="#a9a9b0"/>
<rect x="154" y="55" width="18" height="18" fill="url(#gs)"/>
<rect x="152" y="54" width="1" height="20" fill="#a9a9b0"/>
</g>
<path d="M71 62h5v1h-1v1h-1v1h-1v-1h-1v-1h-1z" fill="#5468b8" shape-rendering="crispEdges"/>
<path d="M160 65h5v-1h-1v-1h-1v-1h-1v1h-1v1h-1z" fill="#5468b8" shape-rendering="crispEdges"/>
<g font-family="Liberation Sans, Arial, sans-serif" text-rendering="geometricPrecision" fill="#fff">
<text x="21.5" y="69" font-size="13" fill="#fff" font-weight="normal" text-anchor="start" textLength="26" lengthAdjust="spacingAndGlyphs" >SELL</text>
<text x="189.3" y="69" font-size="13" fill="#fff" font-weight="normal" text-anchor="start" textLength="23.8" lengthAdjust="spacingAndGlyphs" >BUY</text>
<text x="125.5" y="68" font-size="13" fill="#000" font-weight="normal" text-anchor="start" textLength="23.5" lengthAdjust="spacingAndGlyphs" >0.01</text>
<text x="29" y="108" font-size="13" fill="#fff" font-weight="bold" text-anchor="start" textLength="24" lengthAdjust="spacingAndGlyphs" stroke="#fff" stroke-width="0.3" >0.71</text>
<text x="56.5" y="107.7" font-size="35.8" fill="#fff" font-weight="normal" text-anchor="start" textLength="34.5" lengthAdjust="spacingAndGlyphs" >65</text>
<text x="96" y="92" font-size="11.6" fill="#fff" font-weight="bold" text-anchor="start" textLength="7" lengthAdjust="spacingAndGlyphs" >8</text>
<text x="139" y="108" font-size="13" fill="#fff" font-weight="bold" text-anchor="start" textLength="24" lengthAdjust="spacingAndGlyphs" stroke="#fff" stroke-width="0.3" >0.71</text>
<text x="167.5" y="107.7" font-size="35.8" fill="#fff" font-weight="normal" text-anchor="start" textLength="34.5" lengthAdjust="spacingAndGlyphs" >67</text>
<text x="207" y="92" font-size="11.6" fill="#fff" font-weight="bold" text-anchor="start" textLength="7" lengthAdjust="spacingAndGlyphs" >7</text>
</g>
<g shape-rendering="crispEdges">
<rect x="0" y="0" width="582" height="2" fill="#f3f3f3"/>
<rect x="252" y="0" width="27" height="1" fill="#fff"/>
<rect x="0" y="2" width="583" height="1" fill="#a0a0a0"/>
<rect x="0" y="3" width="584" height="1" fill="#fff"/>
<rect x="582" y="0" width="1" height="3" fill="#a0a0a0"/><rect x="583" y="0" width="1" height="4" fill="#fff"/>
<rect x="214" y="0" width="1" height="2" fill="#a0a0a0"/><rect x="215" y="0" width="1" height="2" fill="#fff"/>
<rect x="49" y="4" width="1" height="25" fill="#a0a0a0"/><rect x="50" y="4" width="1" height="25" fill="#fff"/>
<rect x="310" y="4" width="1" height="25" fill="#a0a0a0"/><rect x="311" y="4" width="1" height="25" fill="#fff"/>
<rect x="53" y="7" width="3" height="1" fill="#a0a0a0"/>
<rect x="53" y="9" width="3" height="1" fill="#a0a0a0"/>
<rect x="53" y="11" width="3" height="1" fill="#a0a0a0"/>
<rect x="53" y="13" width="3" height="1" fill="#a0a0a0"/>
<rect x="53" y="15" width="3" height="1" fill="#a0a0a0"/>
<rect x="53" y="17" width="3" height="1" fill="#a0a0a0"/>
<rect x="53" y="19" width="3" height="1" fill="#a0a0a0"/>
<rect x="53" y="21" width="3" height="1" fill="#a0a0a0"/>
<rect x="53" y="23" width="3" height="1" fill="#a0a0a0"/>
<rect x="53" y="25" width="3" height="1" fill="#a0a0a0"/>
<rect x="227" y="5" width="26" height="23" fill="url(#dither)"/>
<rect x="227" y="5" width="26" height="1" fill="#a0a0a0"/><rect x="227" y="5" width="1" height="23" fill="#a0a0a0"/>
<rect x="252" y="5" width="1" height="23" fill="#fff"/><rect x="227" y="27" width="26" height="1" fill="#fff"/>
</g>
<path d="M20.5 10.6 L24.3 14.4 L22.6 15.9 L18.4 15.9 L16.7 14.4 Z M25.4 19.1 L29.6 19.1 L31.3 20.6 L27.5 24.4 L23.7 20.6 Z" fill="#555"/>
<path d="M19.2 18.6 L21.6 20.8 L26.1 15.3" fill="none" stroke="#444" stroke-width="1.3"/>
<path d="M38 16h5v1h-1v1h-1v1h-1v-1h-1v-1h-1z" fill="#000" shape-rendering="crispEdges"/>
<path d="M1 11h1v1h-1zM1 13h1v1h-1zM1 15h1v1h-1zM1 17h1v1h-1zM1 19h1v1h-1zM1 21h1v1h-1zM0 23h1v1h-1z" fill="#606060" shape-rendering="crispEdges"/>
<g font-family="Liberation Sans, Arial, sans-serif" text-rendering="geometricPrecision" fill="#444">
<text x="64.1" y="21" font-size="10.2" fill="#333" font-weight="normal" text-anchor="start" textLength="13" lengthAdjust="spacingAndGlyphs" >M1</text>
<text x="92.1" y="21" font-size="10.2" fill="#333" font-weight="normal" text-anchor="start" textLength="13" lengthAdjust="spacingAndGlyphs" >M5</text>
<text x="118.1" y="21" font-size="10.2" fill="#333" font-weight="normal" text-anchor="start" textLength="18" lengthAdjust="spacingAndGlyphs" >M15</text>
<text x="146.1" y="21" font-size="10.2" fill="#333" font-weight="normal" text-anchor="start" textLength="18" lengthAdjust="spacingAndGlyphs" >M30</text>
<text x="177.6" y="21" font-size="10.2" fill="#333" font-weight="normal" text-anchor="start" textLength="12" lengthAdjust="spacingAndGlyphs" >H1</text>
<text x="204.6" y="21" font-size="10.2" fill="#333" font-weight="normal" text-anchor="start" textLength="12" lengthAdjust="spacingAndGlyphs" >H4</text>
<text x="233.6" y="21" font-size="10.2" fill="#333" font-weight="normal" text-anchor="start" textLength="12" lengthAdjust="spacingAndGlyphs" >D1</text>
<text x="260.6" y="21" font-size="10.2" fill="#333" font-weight="normal" text-anchor="start" textLength="14.5" lengthAdjust="spacingAndGlyphs" >W1</text>
<text x="287.6" y="21" font-size="10.2" fill="#333" font-weight="normal" text-anchor="start" textLength="15" lengthAdjust="spacingAndGlyphs" >MN</text>
</g>
<g shape-rendering="crispEdges">
<rect x="0" y="606" width="1345" height="25" fill="#f0f0f0"/>
<rect x="1" y="607" width="1" height="19" fill="#a0a0a0"/><rect x="2" y="607" width="1" height="18" fill="#696969"/><rect x="0" y="625" width="3" height="1" fill="#a0a0a0"/>
<rect x="1" y="606" width="1344" height="1" fill="#000"/>
<rect x="112" y="605" width="103" height="19" fill="#fff"/>
<rect x="111" y="606" width="1" height="19" fill="#000"/><rect x="215" y="606" width="1" height="19" fill="#000"/><rect x="111" y="624" width="105" height="1" fill="#000"/>
<rect x="315" y="609" width="1" height="14" fill="#707070"/>
<rect x="419" y="609" width="1" height="14" fill="#707070"/>
<rect x="523" y="609" width="1" height="14" fill="#707070"/>
<rect x="619" y="609" width="1" height="14" fill="#707070"/>
<rect x="715" y="609" width="1" height="14" fill="#707070"/>
<rect x="807" y="609" width="1" height="14" fill="#707070"/>
<rect x="895" y="609" width="1" height="14" fill="#707070"/>
<rect x="999" y="609" width="1" height="14" fill="#707070"/>
<rect x="0" y="626" width="1345" height="1" fill="#fff"/><rect x="0" y="629" width="1345" height="1" fill="#fcfcfc"/>
<rect x="0" y="630" width="1345" height="1" fill="#a0a0a0"/>
</g>
<path d="M1316 612h1v7h-1zM1315 613h1v5h-1zM1314 614h1v3h-1zM1313 615h1v1h-1zM1332 612h1v7h-1zM1333 613h1v5h-1zM1334 614h1v3h-1zM1335 615h1v1h-1z" fill="#909090" shape-rendering="crispEdges"/>
<g font-family="Liberation Sans, Arial, sans-serif" text-rendering="geometricPrecision">
<text y="621" font-size="13" fill="#707070"><tspan x="18.7" textLength="52.0" lengthAdjust="spacingAndGlyphs">EURUSD,</tspan><tspan x="70.7" textLength="28.3" lengthAdjust="spacingAndGlyphs">Daily</tspan></text>
<text y="621" font-size="13" fill="#000"><tspan x="122.4" textLength="53.9" lengthAdjust="spacingAndGlyphs">AUDUSD,</tspan><tspan x="176.3" textLength="27.7" lengthAdjust="spacingAndGlyphs">Daily</tspan></text>
<text y="621" font-size="13" fill="#707070"><tspan x="224.5" textLength="51.6" lengthAdjust="spacingAndGlyphs">USDCHF,</tspan><tspan x="276.1" textLength="27.9" lengthAdjust="spacingAndGlyphs">Daily</tspan></text>
<text y="621" font-size="13" fill="#707070"><tspan x="325.7" textLength="53.6" lengthAdjust="spacingAndGlyphs">USDCAD,</tspan><tspan x="379.3" textLength="27.7" lengthAdjust="spacingAndGlyphs">Daily</tspan></text>
<text y="621" font-size="13" fill="#707070"><tspan x="428.5" textLength="55.6" lengthAdjust="spacingAndGlyphs">USDCNH,</tspan><tspan x="484.1" textLength="27.9" lengthAdjust="spacingAndGlyphs">Daily</tspan></text>
<text y="621" font-size="13" fill="#707070"><tspan x="532.7" textLength="47.4" lengthAdjust="spacingAndGlyphs">USDJPY,</tspan><tspan x="580.1" textLength="27.9" lengthAdjust="spacingAndGlyphs">Daily</tspan></text>
<text y="621" font-size="13" fill="#707070"><tspan x="631.0" textLength="52.5" lengthAdjust="spacingAndGlyphs">XAUUSD,</tspan><tspan x="683.5" textLength="19.3" lengthAdjust="spacingAndGlyphs">M5</tspan></text>
<text y="621" font-size="13" fill="#707070"><tspan x="727.1" textLength="52.0" lengthAdjust="spacingAndGlyphs">GBPUSD,</tspan><tspan x="779.1" textLength="16.0" lengthAdjust="spacingAndGlyphs">H1</tspan></text>
<text y="621" font-size="13" fill="#707070"><tspan x="818.9" textLength="37.3" lengthAdjust="spacingAndGlyphs">SP500,</tspan><tspan x="856.1" textLength="26.9" lengthAdjust="spacingAndGlyphs">M15</tspan></text>
<text y="621" font-size="13" fill="#707070"><tspan x="906.9" textLength="52.2" lengthAdjust="spacingAndGlyphs">GBPUSD,</tspan><tspan x="959.1" textLength="27.9" lengthAdjust="spacingAndGlyphs">Daily</tspan></text>
</g>
</svg>
</body></html>
